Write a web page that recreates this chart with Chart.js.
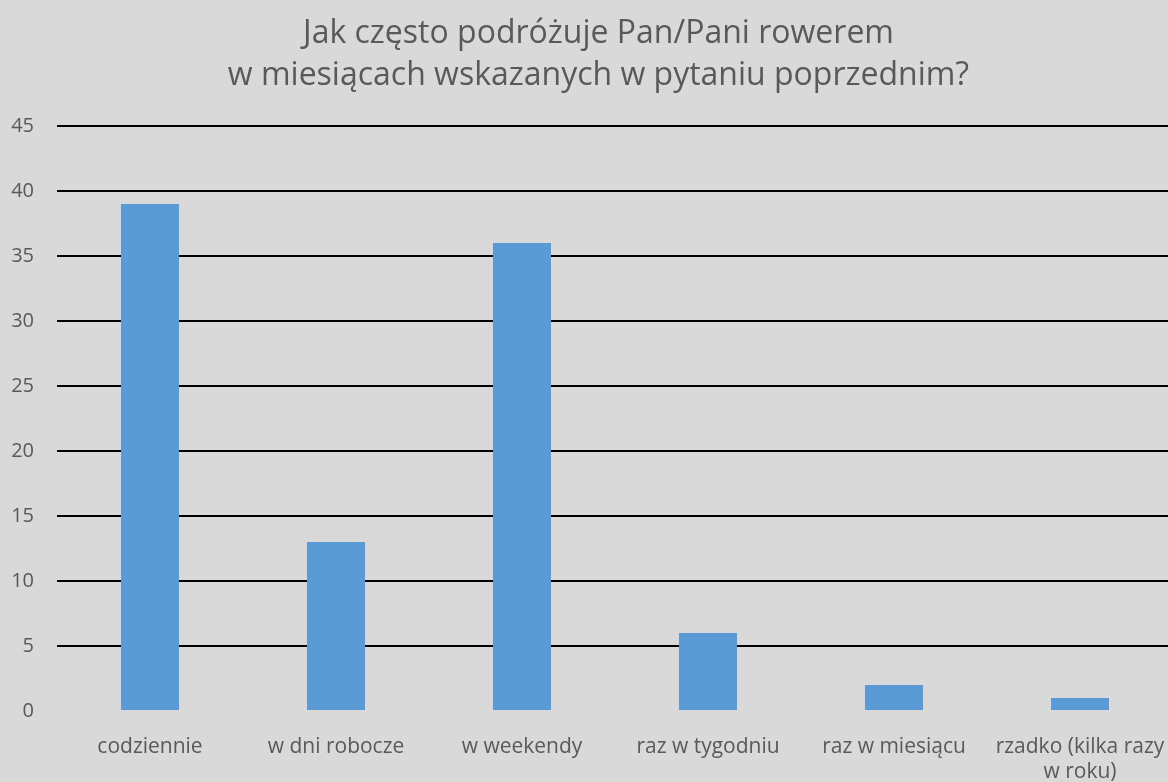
<!DOCTYPE html>
<html>
<head>
<meta charset="utf-8">
<script src="https://cdn.jsdelivr.net/npm/chart.js@4"></script>
<style>
  html, body { margin: 0; padding: 0; background: #d9d9d9; overflow: hidden; }
  #wrap { width: 1168px; height: 782px; overflow: hidden; }
</style>
</head>
<body>
<div id="wrap"><canvas id="chart" width="1173" height="782"></canvas></div>
<script>
// categories (last one wraps onto two lines)
const categories = [
    "codziennie",
    "w dni robocze",
    "w weekendy",
    "raz w tygodniu",
    "raz w miesiącu",
    ["rzadko (kilka razy", "w roku)"]
];
const answers = [39, 13, 36, 6, 2, 1];
const titleLines = [
    "Jak często podróżuje Pan/Pani rowerem",
    "w miesiącach wskazanych w pytaniu poprzednim?"
];

const textColor = "#595959";
const fontFamily = "'Open Sans', 'Noto Sans', sans-serif";

// Excel centres the title a bit right of the page centre, nudge it over
const titleShift = {
    id: "titleShift",
    afterLayout(chart) {
        if (chart.titleBlock) {
            chart.titleBlock.left += 12;
            chart.titleBlock.right += 12;
        }
    },
};

const ctx = document.getElementById("chart").getContext("2d");
new Chart(ctx, {
    type: "bar",
    data: {
        labels: categories,
        datasets: [
            {
                label: "Odpowiedzi",
                data: answers,
                backgroundColor: "#5b9bd5",
                borderWidth: 0,
                barPercentage: 0.312,
                categoryPercentage: 1.0,
            },
        ],
    },
    options: {
        responsive: false,
        animation: false,
        layout: { padding: 0 },
        plugins: {
            legend: { display: false },
            tooltip: { enabled: false },
            title: {
                display: true,
                text: titleLines,
                color: textColor,
                font: { family: fontFamily, size: 32, weight: "normal", lineHeight: 1.3125 },
                padding: { top: 13, bottom: 29 },
            },
        },
        scales: {
            x: {
                grid: { display: false },
                border: { display: false },
                ticks: {
                    color: textColor,
                    font: { family: fontFamily, size: 21, lineHeight: 1.2 },
                    padding: 15,
                    maxRotation: 0,
                    autoSkip: false,
                },
                afterFit: (scale) => {
                    scale.height = 71;
                    scale.paddingLeft = 0;
                    scale.paddingRight = 0;
                },
            },
            y: {
                min: 0,
                max: 45,
                border: { display: false },
                grid: {
                    drawTicks: false,
                    lineWidth: 2,
                    color: (c) => (c.tick && c.tick.value === 0 ? "rgba(0,0,0,0)" : "#000000"),
                },
                ticks: {
                    stepSize: 5,
                    color: textColor,
                    font: { family: fontFamily, size: 20 },
                    padding: 23,
                },
                afterFit: (scale) => { scale.width = 57; },
            },
        },
    },
    plugins: [titleShift],
});
</script>
</body>
</html>
